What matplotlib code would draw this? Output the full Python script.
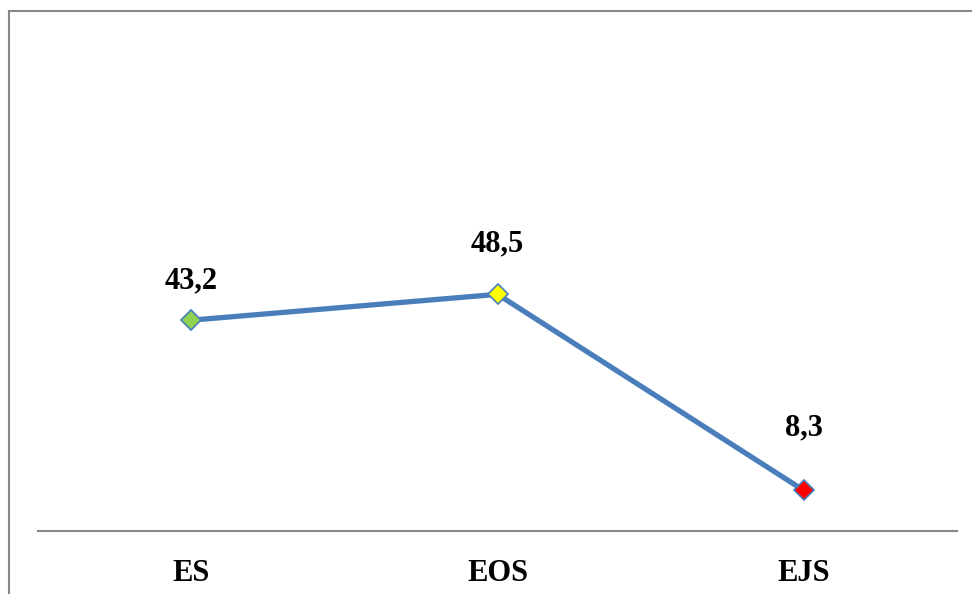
import matplotlib.pyplot as plt
from matplotlib.patches import Rectangle

# Duomenys
kategorijos = ['ES', 'EOS', 'EJS']
reiksmes = [43.2, 48.5, 8.3]
etiketes = ['43,2', '48,5', '8,3']
spalvos = ['#92D050', '#FFFF00', '#FF0000']

W, H = 972, 594
fig = plt.figure(figsize=(W / 100, H / 100), dpi=100)

# Remelis aplink diagrama (apacia ir desine uz vaizdo ribu)
fig.patches.append(Rectangle((8.5 / W, -0.05), 1.05, 1 - 11 / H + 0.05,
                             transform=fig.transFigure, fill=False,
                             edgecolor='#888888', linewidth=1.5))

ax = fig.add_axes([38 / W, (H - 531) / H, 919 / W, 488 / H])
x = list(range(len(kategorijos)))

ax.plot(x, reiksmes, color='#4A7EBB', linewidth=3.8, zorder=2)
for xi, yi, c in zip(x, reiksmes, spalvos):
    ax.plot(xi, yi, marker='D', markersize=10, markerfacecolor=c,
            markeredgecolor='#4A7EBB', markeredgewidth=1.2, zorder=3)

poslinkiai = [28, 36, 45]
for xi, yi, t, d in zip(x, reiksmes, etiketes, poslinkiai):
    ax.annotate(t, (xi, yi), xytext=(0, d), textcoords='offset points',
                ha='center', va='center', fontsize=22, fontweight='bold',
                family='Liberation Serif')

ax.set_xlim(-0.5, 2.5)
ax.set_ylim(0, 100)
ax.set_xticks(x)
ax.set_xticklabels(kategorijos, fontsize=22, fontweight='bold',
                   family='Liberation Serif')
ax.tick_params(axis='x', length=0, pad=20)
ax.set_yticks([])
for s in ['top', 'right', 'left']:
    ax.spines[s].set_visible(False)
ax.spines['bottom'].set_color('#888888')
ax.spines['bottom'].set_linewidth(1.5)
ax.patch.set_alpha(0)

fig.savefig('out.png', dpi=100)
